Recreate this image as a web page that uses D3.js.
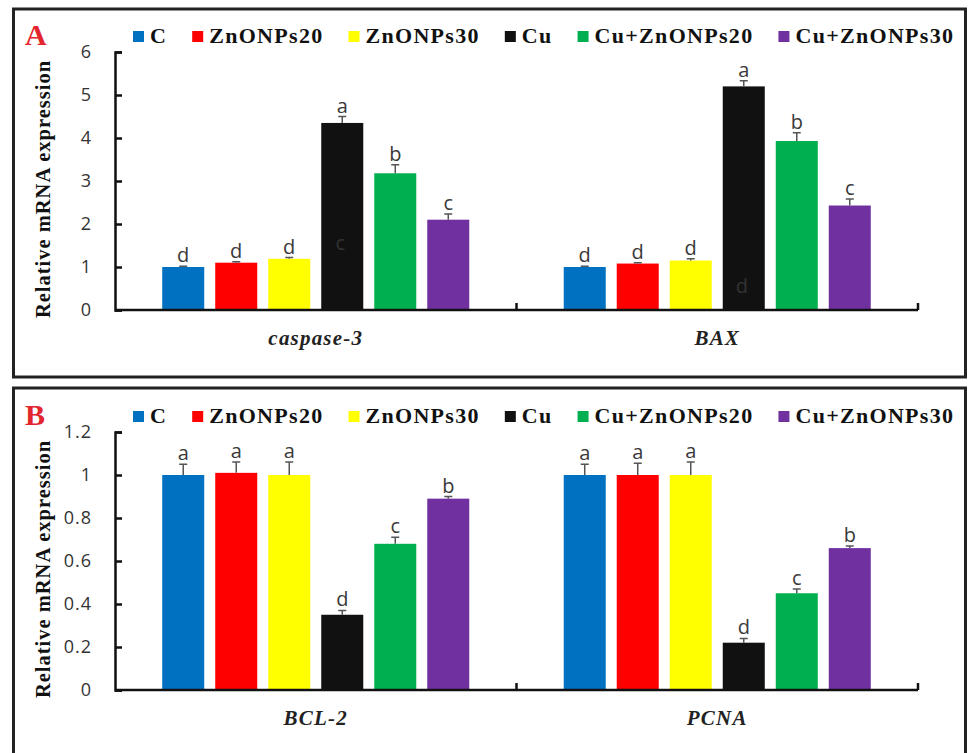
<!DOCTYPE html>
<meta charset="utf-8">
<style>
body { margin: 0; background: #fff; }
svg { display: block; }
.serif { font-family: "Liberation Serif", "Times New Roman", serif; font-weight: bold; }
.sans { font-family: "Open Sans", "Liberation Sans", sans-serif; }
.axis path, .axis line { stroke: #111; stroke-width: 2.5px; }
.axis text { font-size: 18px; fill: #333; letter-spacing: 1px; }
</style>
<body>
<script src="https://d3js.org/d3.v7.min.js"></script>
<script>

var width = 970,
    height = 753;

// treatment groups, in bar order
var groups = ["C", "ZnONPs20", "ZnONPs30", "Cu", "Cu+ZnONPs20", "Cu+ZnONPs30"];
var colors = ["#0070C0", "#FF0000", "#FFFF00", "#111111", "#00B050", "#7030A0"];

// panel A: pro-apoptotic genes
var genesA = ["caspase-3", "BAX"];
var meansA = [[1.00, 1.10, 1.19, 4.35, 3.18, 2.10],
              [1.00, 1.08, 1.15, 5.20, 3.93, 2.43]];
var errsA = [[0.02, 0.02, 0.03, 0.15, 0.20, 0.13],
             [0.02, 0.02, 0.04, 0.13, 0.19, 0.15]];
var lettersA = [["d", "d", "d", "a", "b", "c"],
                ["d", "d", "d", "a", "b", "c"]];
var ticksA = [0, 1, 2, 3, 4, 5, 6];

// panel B: anti-apoptotic / proliferation genes
var genesB = ["BCL-2", "PCNA"];
var meansB = [[1.00, 1.01, 1.00, 0.35, 0.68, 0.89],
              [1.00, 1.00, 1.00, 0.22, 0.45, 0.66]];
var errsB = [[0.05, 0.05, 0.06, 0.02, 0.03, 0.01],
             [0.05, 0.055, 0.06, 0.02, 0.02, 0.01]];
var lettersB = [["a", "a", "a", "d", "c", "b"],
                ["a", "a", "a", "d", "c", "b"]];
var ticksB = [0, 0.2, 0.4, 0.6, 0.8, 1, 1.2];

// stray letters left over inside the black bars of panel A
var ghostA = [{gene: 0, group: 3, value: 1.4, text: "c"},
              {gene: 1, group: 3, value: 0.4, text: "d"}];

var svg = d3.select("body").append("svg")
    .attr("width", width)
    .attr("height", height);

var x0 = d3.scaleBand()
    .range([115, 918])
    .padding(0);

var x1 = d3.scaleBand()
    .domain(groups)
    .paddingInner(0.2075)
    .paddingOuter(0.891);

function panel(o) {
  var g = svg.append("g");

  g.append("rect")
      .attr("x", 13.5)
      .attr("y", o.boxTop)
      .attr("width", 952)
      .attr("height", o.boxHeight)
      .attr("fill", "none")
      .attr("stroke", "#222")
      .attr("stroke-width", 3);

  x0.domain(o.genes);
  x1.range([0, x0.bandwidth()]);

  var y = d3.scaleLinear()
      .domain([0, o.ticks[o.ticks.length - 1]])
      .range([o.y0, o.yTop]);

  // bars
  var gene = g.selectAll(".gene")
      .data(o.genes)
    .enter().append("g")
      .attr("class", "gene")
      .attr("transform", function(d) { return "translate(" + x0(d) + ",0)"; });

  var bar = gene.selectAll(".bar")
      .data(function(d, i) {
        return groups.map(function(k, j) {
          return {group: k, value: o.means[i][j], err: o.errs[i][j], letter: o.letters[i][j], color: colors[j]};
        });
      })
    .enter().append("g")
      .attr("class", "bar");

  bar.append("rect")
      .attr("x", function(d) { return x1(d.group); })
      .attr("y", function(d) { return y(d.value); })
      .attr("width", x1.bandwidth())
      .attr("height", function(d) { return y(0) - y(d.value); })
      .attr("fill", function(d) { return d.color; });

  // error bars (upper half only)
  bar.append("path")
      .attr("d", function(d) {
        var cx = x1(d.group) + x1.bandwidth() / 2,
            top = y(d.value + d.err);
        return "M" + cx + "," + y(d.value) + "V" + top + "M" + (cx - 4) + "," + top + "H" + (cx + 4);
      })
      .attr("stroke", "#555")
      .attr("stroke-width", 1.5)
      .attr("fill", "none");

  bar.append("text")
      .attr("class", "sans")
      .attr("x", function(d) { return x1(d.group) + x1.bandwidth() / 2; })
      .attr("y", function(d) { return y(d.value + d.err) - 4; })
      .attr("text-anchor", "middle")
      .attr("font-size", 20)
      .attr("fill", "#3a3a3a")
      .text(function(d) { return d.letter; });

  (o.ghost || []).forEach(function(d) {
    g.append("text")
        .attr("class", "sans")
        .attr("x", x0(o.genes[d.gene]) + x1(groups[d.group]) + x1.bandwidth() / 2 - 2)
        .attr("y", y(d.value))
        .attr("text-anchor", "middle")
        .attr("font-size", 20)
        .attr("fill", "#333")
        .text(d.text);
  });

  // y axis, ticks pointing inwards
  g.append("g")
      .attr("class", "axis sans")
      .attr("transform", "translate(115,0)")
      .call(d3.axisLeft(y)
          .tickValues(o.ticks)
          .tickFormat(d3.format("~g"))
          .tickSizeInner(-7)
          .tickSizeOuter(-7)
          .tickPadding(23));

  // x axis with ticks between the genes
  var xa = g.append("g").attr("class", "axis");
  xa.append("path")
      .attr("d", "M" + x0.range()[0] + "," + o.y0 + "H" + x0.range()[1])
      .attr("fill", "none");
  xa.selectAll("line")
      .data(o.genes)
    .enter().append("line")
      .attr("x1", function(d) { return x0(d) + x0.step(); })
      .attr("x2", function(d) { return x0(d) + x0.step(); })
      .attr("y1", o.y0)
      .attr("y2", o.y0 - 7);

  g.selectAll(".glabel")
      .data(o.genes)
    .enter().append("text")
      .attr("class", "serif")
      .attr("x", function(d) { return x0(d) + x0.bandwidth() / 2; })
      .attr("y", o.y0 + 35)
      .attr("text-anchor", "middle")
      .attr("font-size", 21)
      .attr("font-style", "italic")
      .attr("letter-spacing", "1.2px")
      .attr("fill", "#222")
      .text(function(d) { return d; });

  // y title
  g.append("text")
      .attr("class", "serif")
      .attr("transform", "translate(50," + o.titleY + ")rotate(-90)")
      .attr("text-anchor", "middle")
      .attr("font-size", 20.5)
      .attr("letter-spacing", "1px")
      .attr("fill", "#111")
      .text("Relative mRNA expression");

  // panel letter
  g.append("text")
      .attr("class", "serif")
      .attr("x", 25)
      .attr("y", o.legendY + 2)
      .attr("font-size", 30)
      .attr("fill", "#E3262E")
      .text(o.label);

  // legend
  var lx = 133;
  groups.forEach(function(k, j) {
    g.append("rect")
        .attr("x", lx)
        .attr("y", o.legendY - 12)
        .attr("width", 11)
        .attr("height", 11)
        .attr("fill", colors[j]);
    var t = g.append("text")
        .attr("class", "serif")
        .attr("x", lx + 17)
        .attr("y", o.legendY)
        .attr("font-size", 22)
        .attr("letter-spacing", "1.3px")
        .attr("fill", "#111")
        .text(k);
    lx += 17 + t.node().getComputedTextLength() + 25;
  });
}

panel({label: "A", boxTop: 9, boxHeight: 368, y0: 310, yTop: 52, titleY: 189, legendY: 43,
       genes: genesA, means: meansA, errs: errsA, letters: lettersA, ticks: ticksA, ghost: ghostA});

panel({label: "B", boxTop: 388, boxHeight: 400, y0: 690, yTop: 432, titleY: 569, legendY: 423,
       genes: genesB, means: meansB, errs: errsB, letters: lettersB, ticks: ticksB});

</script>
